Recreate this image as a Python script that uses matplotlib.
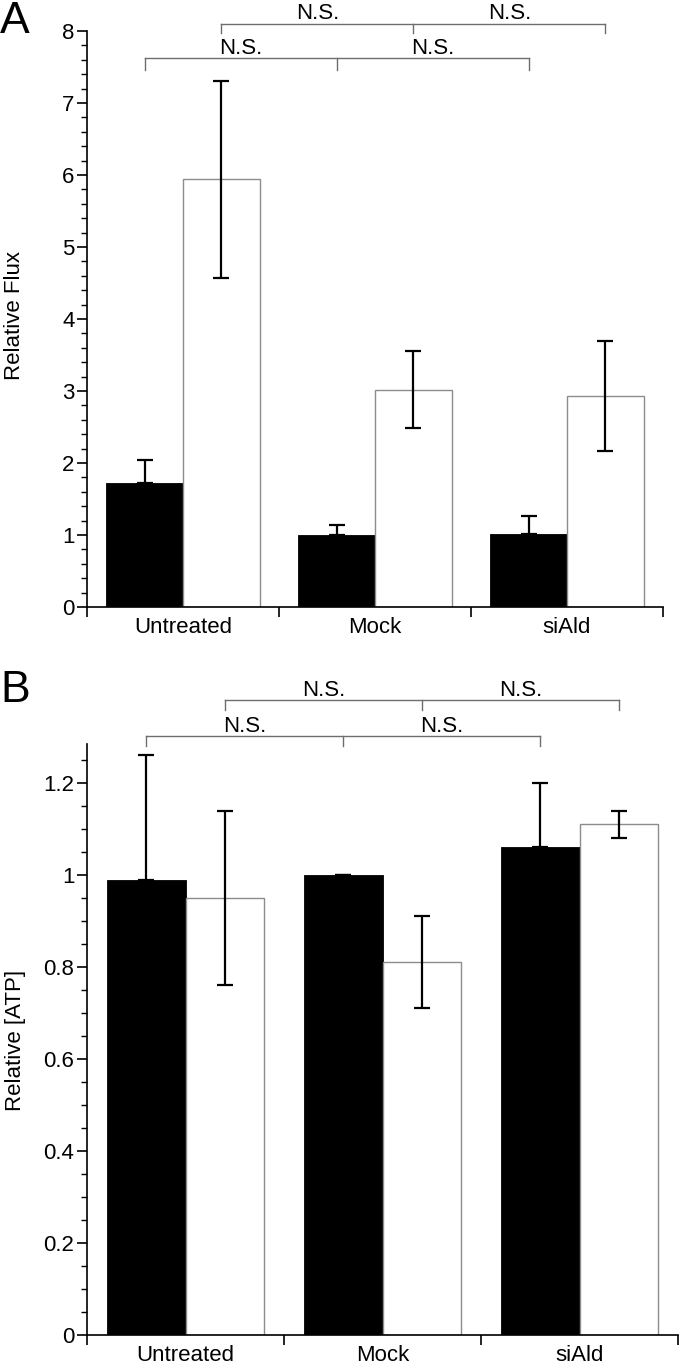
import matplotlib
matplotlib.use('Agg')
import matplotlib.pyplot as plt
import numpy as np
from matplotlib.ticker import MultipleLocator, FuncFormatter

categories = ["Untreated", "Mock", "siAld"]
flux_black = [1.72, 1.00, 1.01]
flux_black_err = [0.32, 0.14, 0.25]
flux_white = [5.94, 3.02, 2.93]
flux_white_err = [1.37, 0.53, 0.77]
atp_black = [0.99, 1.00, 1.06]
atp_black_err = [0.27, 0.0, 0.14]
atp_white = [0.95, 0.81, 1.11]
atp_white_err = [0.19, 0.10, 0.03]
sig_black = ["N.S.", "N.S."]
sig_white = ["N.S.", "N.S."]

plt.rcParams['font.family'] = ['Liberation Sans', 'DejaVu Sans']

W, H = 680, 1364
fig = plt.figure(figsize=(W / 100, H / 100), dpi=100)
axA = fig.add_axes([87 / W, 1 - 607 / H, 576 / W, 576 / H])
axB = fig.add_axes([87 / W, 1 - 1335 / H, 591 / W, 591 / H])

BRACKET = '#6e6e6e'
FS = 16


def fmt(v, pos):
    return '%g' % round(v, 6)


def draw(ax, black, berr, white, werr, ylim, major, minor,
         low_y, low_leg, up_y, up_leg, txt_off):
    x = np.arange(len(categories))
    w = 0.4
    ax.bar(x - w / 2, black, w, color='black', edgecolor='black',
           linewidth=0.6, zorder=2)
    ax.bar(x + w / 2, white, w, color='white', edgecolor='#8c8c8c',
           linewidth=1.0, zorder=2)
    ax.errorbar(x - w / 2, black, yerr=[np.zeros(len(black)), berr],
                fmt='none', ecolor='black', elinewidth=1.6, capsize=5.5,
                capthick=1.6, zorder=3)
    ax.errorbar(x + w / 2, white, yerr=werr, fmt='none', ecolor='black',
                elinewidth=1.6, capsize=5.5, capthick=1.6, zorder=3)

    ax.set_xlim(-0.5, len(categories) - 0.5)
    ax.set_ylim(*ylim)
    for s in ['top', 'right']:
        ax.spines[s].set_visible(False)
    for s in ['left', 'bottom']:
        ax.spines[s].set_linewidth(1.2)

    ax.set_xticks(np.arange(len(categories) + 1) - 0.5)
    ax.set_xticklabels([])
    ax.set_xticks(x, minor=True)
    ax.set_xticklabels(categories, minor=True, fontsize=FS)
    ax.tick_params(axis='x', which='major', direction='out', length=7,
                   width=1.2)
    ax.tick_params(axis='x', which='minor', length=0, pad=7)

    ax.yaxis.set_major_locator(MultipleLocator(major))
    ax.yaxis.set_minor_locator(MultipleLocator(minor))
    ax.yaxis.set_major_formatter(FuncFormatter(fmt))
    ax.tick_params(axis='y', which='major', direction='out', length=7,
                   width=1.2, labelsize=FS, pad=2)
    ax.tick_params(axis='y', which='minor', direction='out', length=4,
                   width=1.0)

    # significance brackets
    bx = list(x - w / 2)
    wx = list(x + w / 2)
    for xs, yl, yleg, labels in [(bx, low_y, low_leg, sig_black),
                                 (wx, up_y, up_leg, sig_white)]:
        ax.plot([xs[0], xs[-1]], [yl, yl], color=BRACKET, lw=1.0,
                clip_on=False, zorder=4)
        for xi in xs:
            ax.plot([xi, xi], [yl, yleg], color=BRACKET, lw=1.0,
                    clip_on=False, zorder=4)
        for i, lab in enumerate(labels):
            ax.text((xs[i] + xs[i + 1]) / 2, yl + txt_off, lab,
                    ha='center', va='baseline', fontsize=FS, clip_on=False)


draw(axA, flux_black, flux_black_err, flux_white, flux_white_err,
     (0, 8), 1, 0.2, 7.62, 7.46, 8.10, 7.97, 0.06)
draw(axB, atp_black, atp_black_err, atp_white, atp_white_err,
     (0, 1.285), 0.2, 0.05, 1.303, 1.28, 1.38, 1.359, 0.009)

fig.text(15 / W, 1 - 315 / H, 'Relative Flux', rotation=90, ha='center',
         va='center', fontsize=FS)
fig.text(15 / W, 1 - 1040 / H, 'Relative [ATP]', rotation=90, ha='center',
         va='center', fontsize=FS)
fig.text(0, 1 - 1 / H, 'A', ha='left', va='top', fontsize=32)
fig.text(0, 1 - 670 / H, 'B', ha='left', va='top', fontsize=32)

fig.savefig('out.png', dpi=100)
